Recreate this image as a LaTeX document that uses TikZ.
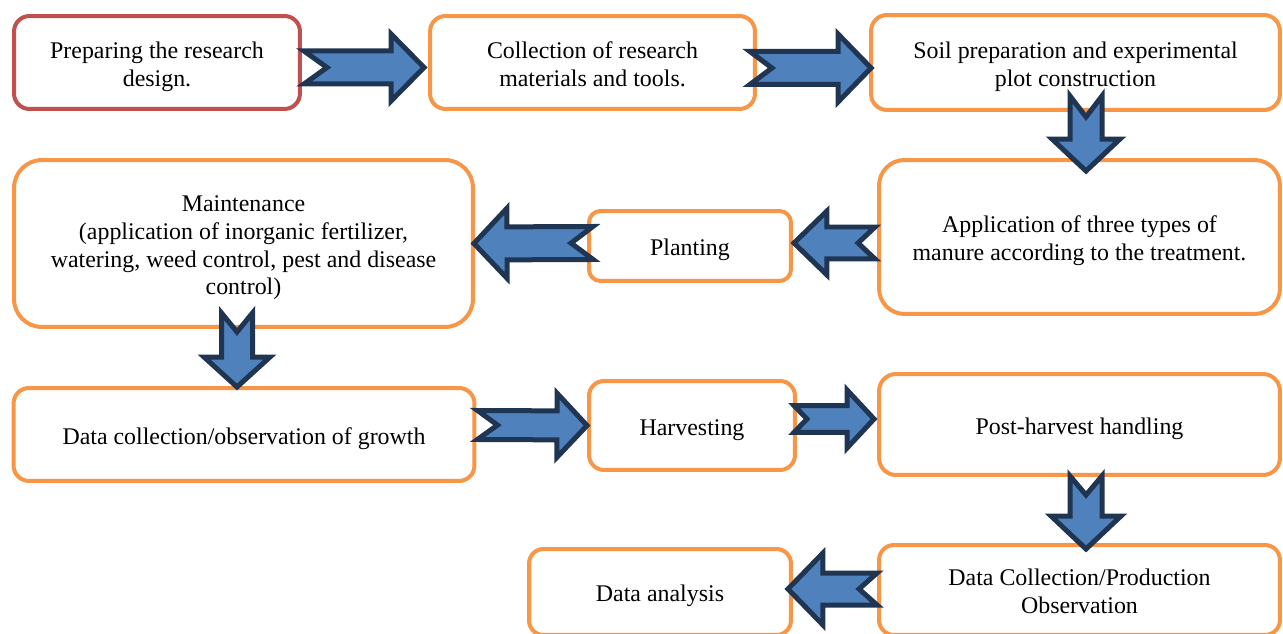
\documentclass[tikz,border=0pt]{standalone}
\usepackage{fontspec}
\setmainfont{Liberation Serif}
\usetikzlibrary{calc}
\definecolor{boxorange}{HTML}{F79646}
\definecolor{boxred}{HTML}{C0504D}
\definecolor{arrfill}{HTML}{4F81BD}
\definecolor{arrline}{HTML}{1F3552}
\newcommand\boxtext[1]{\raisebox{-0.08cm}[\height][\depth]{\begin{tabular}{@{}c@{}}#1\end{tabular}}}
\tikzset{
  stepbox/.style={draw=boxorange, line width=0.08cm, fill=white, align=center,
    inner sep=0pt, font=\fontsize{13.6}{15.9}\selectfont},
  blockarrowline/.style={draw=arrline, fill=arrfill, line width=0.10cm, line join=miter}
}
% #1 tail coordinate, #2 tip coordinate, #3 shaft half width, #4 head half width,
% #5 head length, #6 tail notch depth
\newcommand\blockarrow[6]{%
  \path let \p1=($(#2)-(#1)$) in
    \pgfextra{\pgfmathsetmacro\tmplen{veclen(\x1,\y1)}%
      \pgfmathsetmacro\tmpang{atan2(\y1,\x1)}%
      \xdef\Arrlen{\tmplen}\xdef\Arrang{\tmpang}};
  \begin{scope}[shift={(#1)}, rotate=\Arrang]
    \draw[blockarrowline] (0cm,#3) -- ({\Arrlen pt-#5},#3) -- ({\Arrlen pt-#5},#4)
      -- (\Arrlen pt,0cm) -- ({\Arrlen pt-#5},-#4) -- ({\Arrlen pt-#5},-#3)
      -- (0cm,-#3) -- (#6,0cm) -- cycle;
  \end{scope}}
\begin{document}
\begin{tikzpicture}[x=0.02cm, y=-0.02cm]
\useasboundingbox (0,0) rectangle (1283,634);
% boxes
\node[stepbox, draw=boxred, minimum width=5.72cm, minimum height=1.86cm, rounded corners=0.31cm]
  (b1) at (157,62.5) {\boxtext{Preparing the research\\design.}};
\node[stepbox, minimum width=6.5cm, minimum height=1.86cm, rounded corners=0.31cm]
  (b2) at (592.5,62.5) {\boxtext{Collection of research\\materials and tools.}};
\node[stepbox, minimum width=8.18cm, minimum height=1.90cm, rounded corners=0.32cm]
  (b3) at (1075.5,62.5) {\boxtext{Soil preparation and experimental\\plot construction}};
\node[stepbox, minimum width=8.02cm, minimum height=3.08cm, rounded corners=0.51cm]
  (b4) at (1079.5,237) {\boxtext{Application of three types of\\manure according to the treatment.}};
\node[stepbox, minimum width=4.04cm, minimum height=1.40cm, rounded corners=0.23cm]
  (b5) at (690,246) {\boxtext{Planting}};
\node[stepbox, minimum width=9.18cm, minimum height=3.34cm, rounded corners=0.56cm]
  (b6) at (243.5,243.5) {\boxtext{Maintenance\\(application of inorganic fertilizer,\\watering, weed control, pest and disease\\control)}};
\node[stepbox, minimum width=9.22cm, minimum height=1.86cm, rounded corners=0.31cm]
  (b7) at (244,434.5) {\boxtext{Data collection/observation of growth}};
\node[stepbox, minimum width=4.12cm, minimum height=1.78cm, rounded corners=0.30cm]
  (b8) at (692,425.5) {\boxtext{Harvesting}};
\node[stepbox, minimum width=8.02cm, minimum height=2.02cm, rounded corners=0.34cm]
  (b9) at (1079.5,424.5) {\boxtext{Post-harvest handling}};
\node[stepbox, minimum width=8.02cm, minimum height=1.80cm, rounded corners=0.30cm]
  (b10) at (1079.5,590) {\boxtext{Data Collection/Production\\Observation}};
\node[stepbox, minimum width=5.24cm, minimum height=1.72cm, rounded corners=0.29cm]
  (b11) at (660,592) {\boxtext{Data analysis}};
% arrow end points
\coordinate (a1s) at ($(b1.east)+(2,5)$);
\coordinate (a1e) at ($(b2.west)+(-4,5)$);
\coordinate (a2s) at ($(b2.east)+(-7,5.5)$);
\coordinate (a2e) at ($(b3.west)+(2,5.5)$);
\coordinate (a3s) at ($(b3.south)+(10.5,-16)$);
\coordinate (a3e) at ($(b4.north)+(6.5,13)$);
\coordinate (a4s) at ($(b4.west)+(-2,6)$);
\coordinate (a4e) at ($(b5.east)+(1,-3)$);
\coordinate (a5s) at ($(b5.west)+(6,-3)$);
\coordinate (a5e) at ($(b6.east)+(-1,0)$);
\coordinate (a6s) at ($(b6.south)+(-6.5,-16)$);
\coordinate (a6e) at ($(b7.north)+(-7,1)$);
\coordinate (a7s) at ($(b7.east)+(1,-9.5)$);
\coordinate (a7e) at ($(b8.west)+(0,0)$);
\coordinate (a8s) at ($(b8.east)+(-3,-6.5)$);
\coordinate (a8e) at ($(b9.west)+(-3,-5.5)$);
\coordinate (a9s) at ($(b9.south)+(6.5,-1)$);
\coordinate (a9e) at ($(b10.north)+(6.5,6)$);
\coordinate (a10s) at ($(b10.west)+(0,-1)$);
\coordinate (a10e) at ($(b11.east)+(-5,-3)$);
% block arrows
\blockarrow{a1s}{a1e}{0.33cm}{0.67cm}{0.66cm}{0.46cm}
\blockarrow{a2s}{a2e}{0.33cm}{0.68cm}{0.66cm}{0.44cm}
\blockarrow{a3s}{a3e}{0.32cm}{0.68cm}{0.64cm}{0.42cm}
\blockarrow{a4s}{a4e}{0.32cm}{0.64cm}{0.66cm}{0.34cm}
\blockarrow{a5s}{a5e}{0.33cm}{0.70cm}{0.66cm}{0.44cm}
\blockarrow{a6s}{a6e}{0.31cm}{0.66cm}{0.60cm}{0.38cm}
\blockarrow{a7s}{a7e}{0.29cm}{0.64cm}{0.60cm}{0.40cm}
\blockarrow{a8s}{a8e}{0.27cm}{0.58cm}{0.54cm}{0.26cm}
\blockarrow{a9s}{a9e}{0.32cm}{0.70cm}{0.66cm}{0.38cm}
\blockarrow{a10s}{a10e}{0.32cm}{0.72cm}{0.70cm}{0.36cm}
\end{tikzpicture}
\end{document}
